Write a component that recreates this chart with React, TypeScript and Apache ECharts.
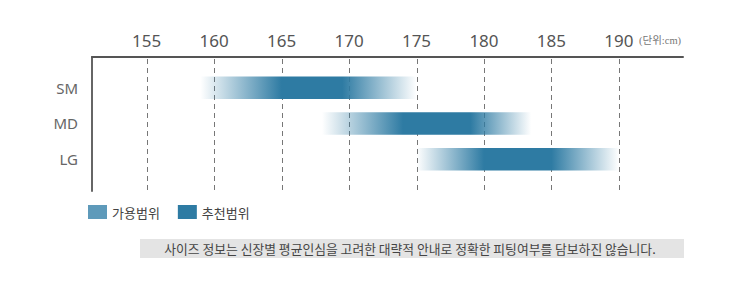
import React, { useEffect, useRef } from "react";
import * as echarts from "echarts";

const sizes = ["SM", "MD", "LG"];
// available range start, recommended start, recommended end, available range end (cm)
const rangeStart = [159, 168, 175];
const recStart = [165, 174, 180];
const recEnd = [169.5, 179, 185];
const rangeEnd = [175, 183.5, 190];
const heightTicks = [155, 160, 165, 170, 175, 180, 185, 190];
const legendNames = ["가용범위", "추천범위"];
const legendColors = ["#5e9aba", "#2e7ba3"];
const unitText = "(단위:cm)";
const noteText = "사이즈 정보는 신장별 평균인심을 고려한 대략적 안내로 정확한 피팅여부를 담보하진 않습니다.";

const BLUE = "46,123,163";
const Y_MIN = 0.139;
const Y_MAX = 3.889;

export default function App() {
  const ref = useRef<HTMLDivElement>(null);
  useEffect(() => {
    if (!ref.current) return;
    const chart = echarts.init(ref.current, undefined, { renderer: "svg" });
    const barData = sizes.map((_, i) => [i + 1, rangeStart[i], recStart[i], recEnd[i], rangeEnd[i]]);
    chart.setOption({
      animation: false,
      textStyle: { fontFamily: "'Noto Sans', 'Noto Sans CJK KR', sans-serif" },
      grid: { left: 92, right: 63, top: 57, bottom: 94 },
      legend: {
        data: legendNames,
        left: 88,
        top: 205,
        padding: 0,
        icon: "rect",
        itemWidth: 19,
        itemHeight: 14,
        itemGap: 18,
        textStyle: { fontSize: 13, color: "#444", fontFamily: "'Noto Sans CJK KR', sans-serif" },
      },
      xAxis: {
        type: "value",
        position: "top",
        min: 150.95,
        max: 194.75,
        axisLine: { show: true, lineStyle: { color: "#555", width: 2 } },
        axisTick: { show: false },
        splitLine: { show: false },
        axisLabel: {
          customValues: heightTicks,
          fontSize: 17,
          color: "#555",
          margin: 8,
        },
      },
      yAxis: {
        type: "value",
        inverse: true,
        min: Y_MIN,
        max: Y_MAX,
        axisLine: { show: true, lineStyle: { color: "#666", width: 2 } },
        axisTick: { show: false },
        splitLine: { show: false },
        axisLabel: {
          customValues: [1, 2, 3],
          formatter: (v: number) => sizes[Math.round(v) - 1] ?? "",
          fontSize: 15,
          color: "#666",
          margin: 14,
        },
      },
      series: [
        {
          name: legendNames[0],
          type: "bar",
          data: [],
          itemStyle: { color: legendColors[0] },
        },
        {
          name: legendNames[1],
          type: "bar",
          data: [],
          itemStyle: { color: legendColors[1] },
        },
        {
          type: "custom",
          z: 1,
          silent: true,
          data: heightTicks.map((t) => [t]),
          encode: { x: 0 },
          renderItem: (params: any, api: any) => {
            const t = api.value(0);
            const a = api.coord([t, Y_MIN]);
            const b = api.coord([t, Y_MAX]);
            return {
              type: "line",
              shape: { x1: Math.round(a[0]) + 0.5, y1: a[1] + 2, x2: Math.round(b[0]) + 0.5, y2: b[1] + 1 },
              style: { stroke: "#777", lineWidth: 1, lineDash: [5, 4] },
            };
          },
        },
        {
          type: "custom",
          z: 5,
          data: barData,
          encode: { x: [1, 4], y: 0 },
          renderItem: (params: any, api: any) => {
            const yi = api.value(0);
            const s = api.value(1);
            const rs = api.value(2);
            const re = api.value(3);
            const e = api.value(4);
            const p0 = api.coord([s, yi]);
            const p1 = api.coord([e, yi]);
            const h = api.size([0, 1])[1] * 0.63;
            const span = e - s;
            return {
              type: "rect",
              shape: { x: p0[0], y: p0[1] - h / 2, width: p1[0] - p0[0], height: h },
              style: {
                fill: new echarts.graphic.LinearGradient(0, 0, 1, 0, [
                  { offset: 0, color: `rgba(${BLUE},0)` },
                  { offset: (rs - s) / span, color: `rgba(${BLUE},1)` },
                  { offset: (re - s) / span, color: `rgba(${BLUE},1)` },
                  { offset: 1, color: `rgba(${BLUE},0)` },
                ]),
              },
            };
          },
        },
      ],
      graphic: [
        {
          type: "text",
          left: 639,
          top: 35,
          style: {
            text: unitText,
            fontSize: 10.5,
            fill: "#777",
            fontFamily: "'Liberation Serif', 'Noto Sans CJK KR', serif",
          },
        },
        {
          type: "rect",
          shape: { x: 140, y: 239, width: 544, height: 19 },
          style: { fill: "#e4e4e4" },
        },
        {
          type: "text",
          x: 410,
          y: 248.5,
          style: {
            text: noteText,
            fontSize: 12.8,
            fill: "#444",
            align: "center",
            verticalAlign: "middle",
            fontFamily: "'Noto Sans CJK KR', sans-serif",
          },
        },
      ],
    });
    return () => chart.dispose();
  }, []);
  return (
    <div
      ref={ref}
      style={{ position: "absolute", left: 0, top: 0, width: 746, height: 285 }}
    />
  );
}
